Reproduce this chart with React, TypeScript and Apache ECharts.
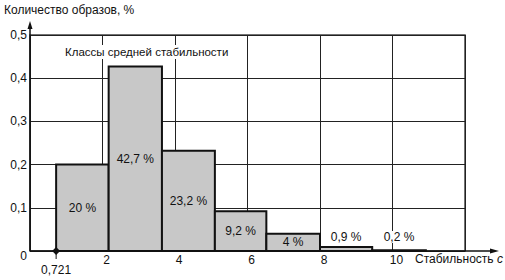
import React, { useEffect, useRef } from "react";
import * as echarts from "echarts";

// Histogram bin edges (stability c) and shares of samples
const binEdges = [0.721, 2.17, 3.64, 5.1, 6.52, 8.0, 9.44, 10.92];
const shares = [0.2, 0.427, 0.232, 0.092, 0.04, 0.009, 0.002];
const shareLabels = ["20 %", "42,7 %", "23,2 %", "9,2 %", "4 %", "0,9 %", "0,2 %"];
const thresholdValue = 0.721;
const thresholdLabel = "0,721";
const yTitle = "Количество образов, %";
const xTitle = "Стабильность ";
const xTitleVar = "с";
const classNote = "Классы средней стабильности";

const FONT = "'Liberation Sans', Arial, sans-serif";
const INK = "#111";

export default function App() {
  const ref = useRef<HTMLDivElement>(null);
  useEffect(() => {
    if (!ref.current) return;
    const chart = echarts.init(ref.current, null, { renderer: "svg" });
    const barData = shares.map((v, i) => [binEdges[i], binEdges[i + 1], v]);
    chart.setOption({
      animation: false,
      backgroundColor: "#fff",
      textStyle: { fontFamily: FONT, color: INK },
      grid: {
        left: 30,
        right: 40,
        top: 35,
        bottom: 29,
        show: true,
        borderColor: "#444",
        borderWidth: 1.5,
        backgroundColor: "transparent",
      },
      xAxis: {
        type: "value",
        min: 0,
        max: 12,
        interval: 2,
        axisLine: { show: false },
        axisTick: { show: false },
        splitLine: { show: true, lineStyle: { color: "#222", width: 1 } },
        axisLabel: {
          fontSize: 12,
          fontFamily: FONT,
          color: INK,
          margin: 3,
          padding: [0, 0, 0, 8],
          formatter: (v: number) => (v === 0 || v === 12 ? "" : String(v)),
        },
      },
      yAxis: {
        type: "value",
        min: 0,
        max: 0.5,
        interval: 0.1,
        axisLine: { show: false },
        axisTick: { show: false },
        splitLine: { show: true, lineStyle: { color: "#222", width: 1 } },
        axisLabel: {
          fontSize: 12,
          fontFamily: FONT,
          color: INK,
          margin: 3,
          formatter: (v: number) => (v === 0 ? "{z|0}" : v.toFixed(1).replace(".", ",")),
          rich: { z: { fontSize: 12, fontFamily: FONT, color: INK, padding: [10, 0, 0, 0] } },
        },
      },
      graphic: [
        {
          type: "text",
          left: 4,
          top: 4,
          style: { text: yTitle, font: `12px ${FONT}`, fill: INK },
        },
        {
          type: "text",
          left: 63,
          top: 45,
          z: 10,
          style: {
            text: classNote,
            font: `11.5px ${FONT}`,
            fill: INK,
            backgroundColor: "#fff",
            padding: [1, 2, 1, 2],
          },
        },
        {
          type: "text",
          left: 415,
          top: 253,
          style: {
            text: `{n|${xTitle}}{i|${xTitleVar}}`,
            rich: {
              n: { font: `12px ${FONT}`, fill: INK },
              i: { font: `italic 12px ${FONT}`, fill: INK },
            },
          },
        },
      ],
      series: [
        {
          type: "custom",
          z: 3,
          data: barData,
          encode: { x: [0, 1], y: 2 },
          renderItem: (params: any, api: any) => {
            const p0 = api.coord([api.value(0), api.value(2)]);
            const p1 = api.coord([api.value(1), 0]);
            const h = p1[1] - p0[1];
            const cx = (p0[0] + p1[0]) / 2;
            const inside = h > 14;
            const labelStyle: any = {
              text: shareLabels[params.dataIndex],
              x: cx,
              y: inside ? p0[1] + h / 2 : Math.min(p0[1] - 10, 237),
              align: "center",
              verticalAlign: "middle",
              font: `12px ${FONT}`,
              fill: INK,
            };
            if (!inside) {
              labelStyle.backgroundColor = "#fff";
              labelStyle.padding = [0, 2, 0, 2];
            }
            return {
              type: "group",
              children: [
                {
                  type: "rect",
                  shape: { x: p0[0], y: p0[1], width: p1[0] - p0[0], height: h },
                  style: { fill: "#c8c8c8", stroke: INK, lineWidth: 2 },
                },
                { type: "text", z2: 5, style: labelStyle },
              ],
            };
          },
        },
        {
          type: "custom",
          z: 5,
          data: [[0, 0]],
          renderItem: (params: any, api: any) => {
            const o = api.coord([api.value(0), api.value(1)]);
            const cs = params.coordSys;
            const topY = cs.y - 14;
            const rightX = cs.x + cs.width + 34;
            return {
              type: "group",
              children: [
                { type: "line", shape: { x1: o[0], y1: o[1], x2: o[0], y2: topY + 6 }, style: { stroke: INK, lineWidth: 1.5 } },
                { type: "polygon", shape: { points: [[o[0], topY], [o[0] - 2.5, topY + 8], [o[0] + 2.5, topY + 8]] }, style: { fill: INK } },
                { type: "line", shape: { x1: o[0], y1: o[1], x2: rightX - 6, y2: o[1] }, style: { stroke: INK, lineWidth: 1.5 } },
                { type: "polygon", shape: { points: [[rightX, o[1]], [rightX - 9, o[1] - 2.5], [rightX - 9, o[1] + 2.5]] }, style: { fill: INK } },
              ],
            };
          },
        },
        {
          type: "custom",
          z: 6,
          data: [[thresholdValue, 0]],
          renderItem: (params: any, api: any) => {
            const p = api.coord([api.value(0), api.value(1)]);
            return {
              type: "group",
              children: [
                { type: "line", shape: { x1: p[0], y1: p[1], x2: p[0], y2: p[1] + 8 }, style: { stroke: INK, lineWidth: 1 } },
                { type: "polygon", shape: { points: [[p[0], p[1] - 4], [p[0] + 4, p[1]], [p[0], p[1] + 4], [p[0] - 4, p[1]]] }, style: { fill: INK } },
                {
                  type: "text",
                  style: { text: thresholdLabel, x: p[0], y: p[1] + 19, align: "center", verticalAlign: "middle", font: `12px ${FONT}`, fill: INK },
                },
              ],
            };
          },
        },
      ],
    });
    return () => chart.dispose();
  }, []);
  return <div ref={ref} style={{ position: "fixed", left: 0, top: 0, width: 505, height: 280 }} />;
}
